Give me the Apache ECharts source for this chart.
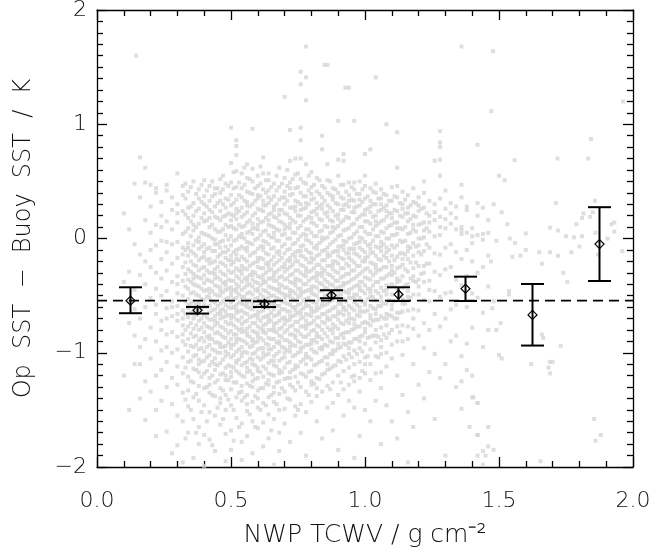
<!DOCTYPE html>
<html>
<head>
<meta charset="utf-8">
<script src="https://cdn.jsdelivr.net/npm/echarts@6/dist/echarts.min.js"></script>
<style>
html,body{margin:0;padding:0;background:#fff;}
#chart{width:654px;height:550px;}
</style>
</head>
<body>
<div id="chart"></div>
<script>
// ---- binned statistics (error bars) ----
const binX    = [0.125, 0.375, 0.625, 0.875, 1.125, 1.375, 1.625, 1.875];
const binMean = [-0.544, -0.628, -0.573, -0.497, -0.490, -0.440, -0.669, -0.049];
const binLow  = [-0.654, -0.657, -0.600, -0.523, -0.547, -0.547, -0.937, -0.372];
const binHigh = [-0.427, -0.599, -0.550, -0.453, -0.427, -0.334, -0.398, 0.274];
const meanBias = -0.544;

// ---- tick labels ----
const xTicks = [0.0, 0.5, 1.0, 1.5, 2.0];
const yTicks = [-2, -1, 0, 1, 2];

// ---- matchup cloud: x column (g cm-2) and y values in hundredths of K ----
const cloudX = [0.10,0.12,0.14,0.16,0.18,0.20,0.22,0.24,0.26,0.28,0.30,0.32,0.34,0.36,0.38,0.40,0.42,0.44,0.46,0.48,
  0.50,0.52,0.54,0.56,0.58,0.60,0.62,0.64,0.66,0.68,0.70,0.72,0.74,0.76,0.78,0.80,0.82,0.84,0.86,0.88,
  0.90,0.92,0.94,0.96,0.98,1.00,1.02,1.04,1.06,1.08,1.10,1.12,1.14,1.16,1.18,1.20,1.22,1.24,1.26,1.28,
  1.30,1.32,1.34,1.36,1.38,1.40,1.42,1.44,1.46];
const cloudYcK = [
  [-38,-120,22],
  [-29,-74,8,-55,-150],
  [-5,-85,-45,48,-110,-62],
  [71,-14,-110,-140,36,-32,-70,-95],
  [62,49,16,-40,-125,-159,-20,-88,-60],
  [47,5,-25,-52,-78,-105,-134,-10,28],
  [44,40,-6,-30,-44,-66,-90,-120,-173,12,-58,-150],
  [32,20,-2,-18,-50,-72,-98,-115,-142,-80,-35,10],
  [47,42,15,-12,-28,-46,-61,-84,-108,-130,-169,-3,-70,-95],
  [8,-5,25,-22,-38,-55,-68,-82,-100,-122,-145,-188,36,-60],
  [57,30,14,-3,-17,-33,-48,-59,-72,-86,-97,-112,-128,-155,-181,22,-40,-66],
  [46,24,4,-8,-25,-37,-50,-63,-76,-90,-104,-118,-135,-160,38,-14,-70,-84,-196],
  [41,18,9,-4,-15,-27,-36,-44,-53,-61,-69,-77,-88,-99,-108,-121,-133,-147,-170,27,-58,-8],
  [50,31,20,7,-6,-13,-23,-31,-40,-47,-55,-63,-70,-79,-86,-95,-103,-114,-126,-139,-158,-192,12,-66,-35],
  [43,26,13,1,-9,-19,-28,-34,-42,-50,-57,-64,-72,-80,-89,-97,-106,-117,-129,-142,-165,35,-3,-60,-110,-180],
  [51,37,22,15,4,-5,-16,-25,-32,-39,-46,-54,-60,-67,-74,-82,-90,-99,-107,-118,-131,-146,-172,-199,30,-12,-58],
  [46,33,25,10,2,-8,-18,-22,-30,-37,-44,-52,-59,-65,-71,-78,-85,-93,-102,-111,-122,-135,-152,-176,18,-48,-88,-128],
  [44,28,19,8,-1,-11,-20,-27,-35,-41,-49,-56,-62,-68,-76,-83,-91,-98,-105,-115,-126,-138,-155,-186,39,-5,-31,-72,-110],
  [52,40,24,16,6,-3,-14,-21,-29,-36,-43,-50,-57,-63,-70,-77,-84,-92,-100,-109,-119,-131,-144,-163,33,-8,-46,-66,-95,-140],
  [48,35,27,12,3,-7,-17,-24,-32,-38,-45,-53,-58,-64,-73,-80,-87,-94,-103,-113,-124,-137,-150,-171,-195,20,-12,-41,-68,-99,-120],
  [66,97,49,38,29,21,11,2,-6,-15,-23,-30,-37,-43,-50,-56,-61,-67,-74,-81,-88,-96,-104,-112,-121,-132,-146,-168,16,-19,-47,-70,-93,-117,-185],
  [86,81,73,59,45,34,26,17,8,-1,-10,-18,-26,-33,-40,-47,-52,-58,-65,-71,-78,-84,-91,-99,-107,-116,-126,-139,-157,22,-14,-44,-62,-88,-109],
  [57,44,36,27,19,10,1,-7,-16,-24,-31,-38,-45,-51,-57,-63,-69,-75,-82,-89,-95,-103,-111,-120,-129,-142,-162,-178,4,-28,-54,-79,-100,-134,-194],
  [65,53,41,32,23,14,5,-3,-11,-20,-27,-34,-41,-48,-54,-60,-66,-72,-79,-85,-92,-100,-108,-117,-127,-137,-151,-173,29,-8,-37,-57,-83,-113,-145],
  [96,61,50,39,30,20,13,4,-5,-13,-22,-29,-36,-42,-49,-55,-62,-68,-74,-81,-88,-94,-101,-110,-119,-130,-143,-160,-188,9,-32,-58,-90,-106,-125],
  [55,46,35,26,17,8,0,-9,-17,-25,-33,-39,-46,-52,-59,-64,-70,-77,-83,-90,-97,-104,-113,-122,-133,-148,-166,38,12,-20,-44,-67,-86,-116,-140],
  [71,57,43,33,24,15,6,-2,-10,-18,-26,-32,-39,-45,-51,-57,-63,-69,-76,-82,-89,-96,-104,-112,-121,-131,-144,-161,-182,29,-7,-36,-60,-80,-100],
  [57,51,42,31,21,12,3,-5,-14,-21,-28,-35,-42,-48,-55,-61,-67,-73,-80,-87,-93,-101,-109,-118,-128,-139,-154,36,16,-24,-52,-70,-97,-124,-175],
  [48,37,28,19,10,1,-8,-16,-23,-30,-37,-44,-50,-56,-62,-68,-75,-81,-88,-95,-103,-111,-120,-130,-143,-158,25,5,-33,-59,-78,-107,-135,-198],
  [62,45,34,25,15,7,-2,-11,-19,-27,-34,-40,-47,-53,-59,-66,-72,-79,-85,-92,-99,-107,-115,-125,-136,-150,-170,21,-14,-44,-64,-90,-118,-186],
  [124,53,41,30,22,12,4,-5,-13,-22,-29,-36,-43,-49,-56,-62,-69,-75,-82,-89,-96,-104,-113,-123,-134,-149,36,8,-25,-52,-71,-100,-162],
  [95,68,49,38,27,18,9,0,-9,-17,-25,-32,-38,-45,-51,-58,-64,-71,-77,-84,-91,-99,-108,-117,-128,-141,44,13,-20,-48,-68,-95,-122,-178],
  [70,56,44,33,24,14,5,-4,-12,-20,-28,-35,-41,-48,-54,-60,-67,-73,-80,-87,-94,-102,-111,-121,-133,-147,28,-16,-38,-63,-85,-114,-155],
  [146,135,97,86,70,52,40,30,20,11,2,-7,-15,-23,-30,-37,-44,-50,-57,-63,-70,-77,-84,-91,-99,-108,-118,-130,-145,25,-11,-47,-66,-96,-170],
  [168,141,121,65,48,37,27,17,8,-1,-10,-18,-26,-33,-40,-46,-53,-59,-66,-72,-79,-86,-93,-101,-110,-121,-134,-152,31,3,-29,-56,-76,-104,-190],
  [58,45,34,23,14,5,-4,-13,-21,-28,-35,-42,-48,-55,-61,-68,-74,-81,-89,-97,-106,-116,-128,-143,39,18,-17,-45,-64,-92,-125],
  [53,41,31,21,11,2,-6,-15,-23,-30,-37,-43,-50,-56,-63,-69,-76,-83,-91,-100,-110,-122,-138,-160,26,-9,-33,-60,-86,-131],
  [90,78,46,36,26,16,7,-2,-11,-19,-26,-33,-40,-46,-53,-59,-66,-73,-80,-88,-97,-107,-119,-134,30,1,-30,-57,-95,-175],
  [152,65,51,40,29,19,10,1,-8,-16,-24,-31,-38,-44,-51,-57,-64,-71,-78,-86,-94,-104,-115,-129,-148,23,-13,-49,-69,-110],
  [44,34,24,15,6,-3,-12,-20,-27,-34,-41,-48,-54,-61,-68,-75,-83,-91,-101,-112,-126,-144,37,10,-23,-52,-79,-98,-168],
  [103,69,55,40,30,21,11,2,-7,-15,-22,-30,-37,-43,-50,-57,-64,-71,-79,-87,-96,-107,-120,-137,17,-11,-46,-66,-92,-185],
  [74,68,47,35,25,16,7,-2,-10,-18,-26,-33,-39,-46,-53,-60,-67,-75,-83,-92,-103,-116,-132,29,-6,-41,-62,-87,-155],
  [132,49,38,28,18,9,0,-9,-17,-24,-31,-38,-45,-52,-59,-66,-74,-82,-91,-101,-113,-128,33,-13,-48,-70,-96,-142],
  [103,49,43,33,23,13,4,-5,-13,-21,-28,-35,-42,-49,-56,-63,-71,-79,-88,-98,-110,-125,-148,27,-9,-52,-75,-120,-192],
  [50,39,29,19,10,1,-8,-16,-24,-31,-38,-45,-52,-60,-68,-77,-86,-96,-108,-122,34,-3,-42,-64,-90,-134,-173],
  [74,55,46,35,25,15,6,-3,-12,-20,-27,-34,-41,-48,-56,-64,-73,-82,-92,-104,-118,21,-17,-58,-79,-110,-150],
  [78,44,33,23,13,4,-5,-13,-21,-29,-36,-44,-51,-59,-67,-76,-86,-97,-110,28,-9,-47,-70,-124,-160],
  [141,48,40,30,20,11,2,-7,-15,-23,-30,-38,-46,-54,-62,-71,-80,-91,-103,-118,15,-26,-66,-85,-142],
  [43,35,25,15,6,-3,-11,-19,-27,-35,-43,-51,-59,-68,-78,-89,-101,-117,30,-7,-55,-95,-131,-180],
  [100,38,29,19,9,0,-8,-17,-25,-33,-41,-49,-57,-66,-76,-87,-100,24,-12,-45,-70,-112,-146],
  [45,33,22,12,3,-6,-15,-24,-32,-40,-49,-58,-68,-80,-93,18,-28,-62,-105,-160],
  [93,62,46,36,24,14,4,-6,-16,-26,-35,-44,-54,-65,-77,-90,9,-38,-70,-120,-175],
  [41,30,19,8,-3,-13,-23,-33,-43,-53,-64,-76,-90,26,-18,-57,-102,-137],
  [38,27,15,4,-7,-18,-29,-40,-51,-63,-77,22,-11,-46,-88,-152,-196],
  [44,32,20,8,-4,-15,-26,-37,-49,-62,-79,12,-33,-70,-110,-165],
  [36,24,12,0,-12,-24,-36,-49,-63,29,-6,-42,-85,-128],
  [50,40,27,14,1,-11,-24,-38,-54,-74,7,-30,-96,-140],
  [33,20,6,-8,-22,-37,-55,14,-45,-80,-117],
  [68,30,16,2,-13,-29,-46,-66,23,-101,-158],
  [94,84,80,69,55,35,19,3,-14,-32,-51,10,-77,-122],
  [42,26,9,-8,-27,-48,17,-70,-110,-190],
  [31,13,-5,-25,-47,-62,22,-90],
  [28,8,-12,-36,-58,18,-85,-130],
  [168,47,36,10,7,4,-18,-41,-103,-125,-149],
  [28,25,5,-10,-33,-60,-92,-115],
  [9,2,-4,-20,-48,-78,-120,-139],
  [82,31,20,3,-30,-52,-144,-172,-190],
  [27,4,-1,-25,-65,-95,-186,-198],
  [16,5,-15,-42,-80,-165,-182]
];
// interleaved columns through the dense core
const coreX = [0.33,0.35,0.37,0.39,0.41,0.43,0.45,0.47,0.49,0.51,0.53,0.55,0.57,0.59,0.61,0.63,0.65,0.67,0.69,0.71,
  0.73,0.75,0.77,0.79,0.81,0.83,0.85,0.87,0.89,0.91,0.93,0.95,0.97,0.99,1.01,1.03,1.05,1.07,1.09,1.11,
  1.13,1.15,1.17,1.19,1.21,1.23];
const coreYcK = [
  [35,21,6,-10,-21,-31,-42,-55,-66,-80,-93,-113,-141,-175,48],
  [45,28,15,2,-11,-20,-29,-38,-48,-57,-65,-74,-83,-94,-107,-125,-150],
  [39,24,10,-2,-15,-24,-33,-41,-49,-58,-67,-76,-85,-93,-102,-115,-136,-170],
  [47,32,18,5,-7,-17,-26,-35,-44,-53,-62,-70,-78,-87,-96,-108,-121,-152],
  [42,28,16,3,-9,-19,-28,-36,-45,-51,-60,-69,-77,-86,-95,-104,-116,-130,-160],
  [50,37,23,12,0,-11,-21,-30,-38,-46,-55,-63,-71,-79,-88,-97,-108,-120,-137,-181],
  [44,31,18,6,-5,-16,-25,-34,-42,-50,-59,-66,-74,-82,-91,-100,-111,-124,-148],
  [55,43,30,19,8,-2,-12,-22,-31,-39,-47,-55,-62,-69,-78,-86,-95,-106,-118,-133,-158],
  [46,34,22,10,-1,-10,-19,-28,-36,-44,-52,-60,-67,-75,-83,-91,-101,-111,-124,-141],
  [58,44,31,20,9,-2,-12,-21,-29,-37,-45,-53,-60,-68,-76,-84,-93,-102,-113,-126,-150,-177],
  [49,38,24,12,2,-9,-19,-28,-35,-42,-49,-56,-64,-72,-80,-88,-97,-106,-118,-135,-165],
  [62,47,33,21,11,0,-9,-18,-26,-35,-43,-51,-58,-65,-73,-81,-90,-99,-109,-121,-139],
  [52,40,28,16,6,-4,-15,-24,-32,-40,-47,-54,-61,-69,-77,-86,-95,-105,-116,-129,-154],
  [44,33,22,9,-1,-12,-21,-30,-38,-45,-53,-60,-67,-74,-82,-91,-100,-111,-123,-138,-165],
  [63,48,37,25,14,3,-7,-17,-26,-34,-41,-49,-56,-64,-72,-79,-87,-96,-106,-117,-131,-150],
  [51,40,29,18,7,-3,-13,-22,-30,-38,-46,-53,-60,-68,-75,-83,-92,-102,-114,-127,-146],
  [45,34,22,11,1,-9,-19,-27,-35,-43,-50,-58,-65,-72,-80,-88,-97,-107,-119,-137,-168],
  [55,42,30,18,8,-2,-12,-21,-29,-37,-45,-52,-59,-67,-74,-82,-91,-101,-112,-126,-145],
  [48,36,25,14,3,-7,-17,-25,-33,-41,-48,-55,-62,-70,-78,-86,-95,-105,-117,-131],
  [60,46,33,21,10,0,-10,-19,-27,-35,-43,-50,-57,-64,-72,-80,-89,-98,-109,-122,-140],
  [52,39,27,16,5,-5,-14,-23,-31,-39,-46,-53,-60,-68,-76,-84,-93,-103,-115,-130],
  [57,45,32,20,9,-1,-11,-20,-28,-36,-44,-51,-58,-65,-73,-81,-90,-100,-112,-126,-150],
  [49,37,26,15,4,-6,-16,-24,-32,-40,-47,-54,-61,-69,-77,-86,-95,-106,-119],
  [55,42,30,19,8,-2,-12,-21,-29,-37,-45,-52,-59,-67,-75,-84,-93,-104,-117,-137],
  [47,35,24,13,2,-8,-18,-26,-34,-42,-49,-56,-64,-72,-80,-89,-99,-111,-127],
  [51,39,28,17,6,-4,-14,-23,-31,-39,-46,-53,-61,-69,-77,-86,-96,-108,-123],
  [44,33,22,11,0,-10,-19,-28,-36,-43,-50,-58,-66,-74,-83,-93,-104,-118],
  [50,38,27,16,5,-5,-15,-24,-32,-40,-47,-55,-63,-71,-80,-90,-101,-114,-132],
  [43,31,20,9,-1,-11,-20,-29,-37,-44,-52,-60,-68,-77,-87,-98,-111],
  [47,36,25,14,3,-7,-17,-26,-34,-42,-49,-57,-65,-74,-84,-95,-108,-126],
  [41,30,19,8,-3,-13,-22,-31,-39,-47,-55,-63,-72,-82,-93,-106],
  [45,34,23,12,1,-9,-19,-28,-36,-44,-52,-61,-70,-80,-91,-104,-121],
  [39,28,17,6,-4,-14,-24,-33,-41,-49,-58,-67,-77,-88,-101],
  [43,32,21,10,0,-10,-20,-29,-38,-46,-55,-64,-74,-85,-99,-116],
  [37,26,15,4,-6,-16,-26,-35,-44,-53,-63,-74,-87,-103],
  [41,30,19,8,-2,-12,-22,-32,-41,-51,-61,-72,-85],
  [35,24,13,2,-8,-18,-28,-38,-48,-59,-71,-86,-104],
  [39,27,16,5,-5,-15,-25,-35,-46,-57,-70,-84],
  [33,22,11,0,-10,-20,-31,-42,-54,-67,-83],
  [37,25,14,3,-8,-19,-30,-42,-55,-70],
  [31,20,9,-2,-13,-25,-37,-50,-65,-82],
  [34,22,10,-2,-14,-27,-41,-57],
  [29,17,5,-8,-21,-35,-52],
  [31,19,6,-7,-21,-38],
  [26,13,0,-14,-31],
  [22,9,-5,-22]
];
// isolated matchups [TCWV, dSST]
const sparsePoints = [
  [0.146,1.60],[0.849,1.52],[0.927,1.32],[1.478,1.64],[1.471,1.115],[1.963,1.20],
  [1.558,0.685],[1.718,0.70],[1.843,0.87],[1.833,0.70],[1.50,0.55],[1.521,0.51],[1.51,0.23],[1.531,0.125],
  [1.712,0.31],[1.858,0.33],[1.815,0.22],[1.81,0.18],[1.84,0.19],[1.85,0.23],[1.789,0.125],[1.93,0.14],
  [1.92,0.125],[1.93,0.06],[1.60,0.045],[1.69,0.095],[1.72,0.07],[1.75,0.02],[1.78,0.01],[1.81,0.02],
  [1.54,0.00],[1.56,-0.04],[1.60,-0.10],[1.55,-0.16],[1.58,-0.15],[1.65,-0.12],[1.66,-0.22],[1.69,-0.12],
  [1.72,-0.15],[1.74,-0.30],[1.755,-0.38],[1.77,-0.12],[1.80,-0.07],[1.86,0.05],[1.905,0.00],[1.87,-0.14],
  [1.96,-0.11],[1.537,-0.46],[1.537,-0.49],[1.475,-0.61],[1.506,-0.74],[1.49,-0.80],[1.48,-0.55],[1.50,-1.02],
  [1.51,-1.05],[1.66,-0.84],[1.665,-0.87],[1.69,-1.08],[1.70,-1.08],[1.685,-1.13],[1.69,-1.18],[1.73,-0.94],
  [1.404,-1.39],[1.42,-1.44],[1.39,-1.65],[1.42,-1.72],[1.855,-1.58],[1.88,-1.72],[1.86,-1.77],[1.655,-1.95],
  [1.48,-1.85],[1.45,-1.90],[1.47,-0.20],[1.49,-0.02],[1.48,0.30],[1.62,-1.10]
];

// ---- build scatter data ----
const cloudData = [];
cloudX.forEach((x, i) => {
  (cloudYcK[i] || []).forEach(v => cloudData.push([x, v / 100]));
});
coreX.forEach((x, i) => {
  (coreYcK[i] || []).forEach(v => cloudData.push([x, v / 100]));
});
sparsePoints.forEach(p => cloudData.push(p));

const FONT = 'DejaVu Sans';
const TXT = '#111';

const chart = echarts.init(document.getElementById('chart'), null, {renderer: 'canvas'});

const minusFmt = v => (v < 0 ? '\u2212' + Math.abs(v) : String(v));

function axisCommon(extra) {
  return Object.assign({
    type: 'value',
    axisLine: {show: true, onZero: false, lineStyle: {color: '#000', width: 1.3}},
    axisTick: {show: true, inside: true, length: 10, lineStyle: {color: '#000', width: 1.3}},
    splitLine: {show: false},
    minorSplitLine: {show: false}
  }, extra);
}

const option = {
  backgroundColor: '#fff',
  animation: false,
  grid: {left: 97, right: 21, top: 10, bottom: 83, containLabel: false, outerBoundsMode: 'none'},
  xAxis: [
    axisCommon({
      min: 0, max: 2, interval: 0.5, position: 'bottom',
      minorTick: {show: true, splitNumber: 5, length: 6, lineStyle: {color: '#000', width: 1.3}},
      axisLabel: {
        margin: 23, fontFamily: FONT, fontSize: 22, fontWeight: 200, color: TXT,
        formatter: v => (xTicks.indexOf(v) >= 0 ? v.toFixed(1) : '')
      },
      name: 'NWP TCWV / g cm\u207B\u00B2',
      nameLocation: 'middle', nameGap: 56,
      nameTextStyle: {fontFamily: FONT, fontSize: 25, fontWeight: 200, color: TXT}
    }),
    axisCommon({
      min: 0, max: 2, interval: 0.5, position: 'top',
      minorTick: {show: true, splitNumber: 5, length: 6, lineStyle: {color: '#000', width: 1.3}},
      axisLabel: {show: false}
    })
  ],
  yAxis: [
    axisCommon({
      min: -2, max: 2, interval: 1, position: 'left',
      minorTick: {show: true, splitNumber: 10, length: 6, lineStyle: {color: '#000', width: 1.3}},
      axisLabel: {
        margin: 10, fontFamily: FONT, fontSize: 22, fontWeight: 200, color: TXT,
        formatter: v => (yTicks.indexOf(v) >= 0 ? minusFmt(v) : '')
      },
      name: 'Op  SST  \u2212  Buoy  SST  /  K',
      nameLocation: 'middle', nameGap: 61,
      nameTextStyle: {fontFamily: FONT, fontSize: 24, fontWeight: 200, color: TXT}
    }),
    axisCommon({
      min: -2, max: 2, interval: 1, position: 'right',
      minorTick: {show: true, splitNumber: 10, length: 6, lineStyle: {color: '#000', width: 1.3}},
      axisLabel: {show: false}
    })
  ],
  series: [
    {
      type: 'scatter',
      xAxisIndex: 0, yAxisIndex: 0,
      symbol: 'rect',
      symbolSize: 4,
      itemStyle: {color: '#d6d6d6'},
      silent: true,
      data: cloudData,
      z: 1
    },
    {
      type: 'line',
      xAxisIndex: 0, yAxisIndex: 0,
      data: [[0, meanBias], [2, meanBias]],
      symbol: 'none',
      silent: true,
      lineStyle: {color: '#000', width: 1.6, type: [10, 6]},
      z: 3
    },
    {
      type: 'custom',
      xAxisIndex: 0, yAxisIndex: 0,
      silent: true,
      z: 4,
      data: binX.map((x, i) => [x, binMean[i], binLow[i], binHigh[i]]),
      renderItem: function (params, api) {
        const x = api.value(0);
        const pm = api.coord([x, api.value(1)]);
        const pl = api.coord([x, api.value(2)]);
        const ph = api.coord([x, api.value(3)]);
        const cw = 11.5, d = 4.5;
        const st = {stroke: '#000', lineWidth: 2, fill: null};
        return {
          type: 'group',
          children: [
            {type: 'line', shape: {x1: pl[0], y1: pl[1], x2: ph[0], y2: ph[1]}, style: st},
            {type: 'line', shape: {x1: pl[0] - cw, y1: pl[1], x2: pl[0] + cw, y2: pl[1]}, style: st},
            {type: 'line', shape: {x1: ph[0] - cw, y1: ph[1], x2: ph[0] + cw, y2: ph[1]}, style: st},
            {type: 'polygon', shape: {points: [[pm[0], pm[1] - d], [pm[0] + d, pm[1]], [pm[0], pm[1] + d], [pm[0] - d, pm[1]]]},
             style: {stroke: '#000', lineWidth: 1.2, fill: null}}
          ]
        };
      }
    }
  ]
};
chart.setOption(option);
</script>
</body>
</html>
